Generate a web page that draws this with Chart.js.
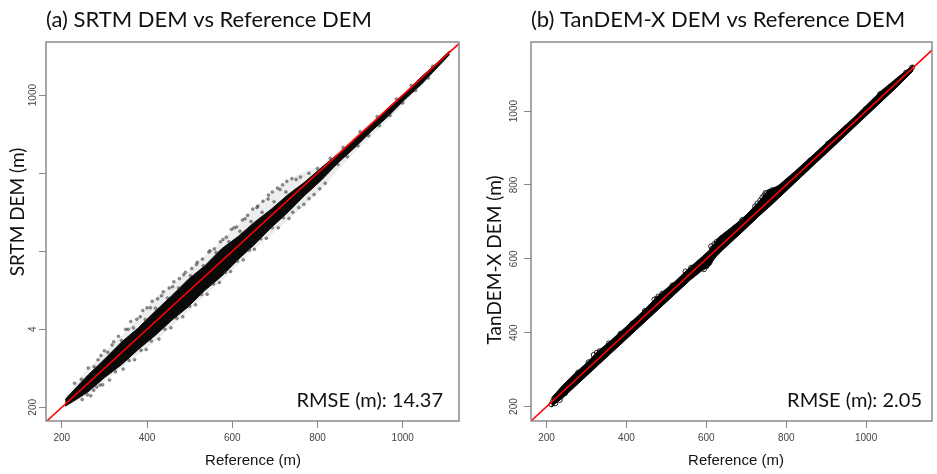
<!DOCTYPE html>
<html><head><meta charset="utf-8">
<script src="https://cdn.jsdelivr.net/npm/chart.js@4.4.1/dist/chart.umd.min.js"></script>
<style>
html,body{margin:0;padding:0;background:#fff;width:937px;height:474px;overflow:hidden}
canvas{position:absolute;top:0}
#ca{left:0}
#cb{left:468px}
</style></head><body>
<canvas id="ca" width="468" height="474"></canvas>
<canvas id="cb" width="469" height="474"></canvas>
<script>
// ---------- shared axis data ----------
const xTicks = [200, 400, 600, 800, 1000];
const yTicks = [200, 400, 600, 800, 1000];
const yLabelsA = ['200', '4', '', '', '1000'];
const yLabelsB = ['200', '400', '600', '800', '1000'];
const oneToOne = [150, 1200];

// ---------- panel (a): SRTM vs reference ----------
const refA    = [208, 235, 262, 300, 341, 380, 419, 458, 497, 536, 575, 614, 653, 692, 731, 770, 809, 848, 888, 927, 966, 1005, 1044, 1077, 1110];
const coreLoA = [203, 221, 240, 276, 310, 349, 384, 423, 458, 500, 536, 579, 618, 661, 700, 743, 782, 826, 866, 908, 946, 989, 1028, 1066, 1104];
const coreHiA = [220, 252, 283, 323, 368, 404, 446, 486, 528, 563, 606, 638, 675, 708, 745, 777, 814, 849, 889, 926, 967, 1005, 1047, 1079, 1113];
const edgeLoA = [200, 213, 232, 266, 303, 335, 368, 408, 446, 487, 524, 566, 606, 643, 680, 718, 758, 808, 854, 895, 936, 980, 1023, 1062, 1100];
const edgeHiA = [228, 265, 300, 340, 384, 432, 479, 513, 548, 589, 626, 670, 713, 748, 782, 805, 819, 857, 896, 933, 970, 1009, 1048, 1082, 1115];
const scatRefA  = [285, 300, 318, 333, 350, 362, 376, 390, 400, 412, 425, 438, 452, 463, 476, 490, 505, 518, 530, 545, 558, 572, 586, 598, 610, 624, 636, 648, 660, 672, 685, 694, 706, 718, 728, 740, 750, 260, 275, 290, 742, 756, 768, 780, 792, 805, 818,
  248, 268, 282, 296, 312, 326, 344, 358, 371, 386, 398, 410, 428, 442, 456, 470, 484, 500, 514, 528, 541, 556, 570, 584, 596, 612, 626, 640, 652, 667, 680, 694, 708, 720, 733, 848, 870, 895, 920, 945, 970, 1000, 1030, 1060,
  230, 246, 262, 276, 292, 308, 322, 340, 356, 368, 384, 396, 408, 420, 434, 448, 460, 474, 486, 502, 516, 532, 548, 562, 578, 592, 604, 618, 630, 644, 658, 670, 684, 698, 712, 726, 760, 780, 800, 830, 860, 900, 940, 985, 1020, 1070];
const scatSrtmA = [322, 345, 360, 382, 400, 420, 426, 448, 455, 472, 478, 496, 506, 522, 530, 546, 556, 572, 580, 598, 606, 624, 636, 656, 662, 680, 692, 708, 716, 728, 744, 752, 762, 770, 779, 786, 784, 232, 244, 257, 700, 712, 720, 735, 745, 760, 774,
  220, 230, 252, 258, 270, 291, 298, 320, 322, 346, 348, 370, 375, 400, 404, 428, 432, 459, 463, 489, 490, 516, 520, 546, 548, 575, 578, 603, 605, 632, 633, 660, 660, 686, 684, 822, 842, 870, 896, 922, 948, 980, 1012, 1044,
  262, 272, 301, 304, 333, 341, 368, 371, 400, 404, 432, 425, 455, 454, 486, 480, 509, 506, 540, 537, 566, 563, 601, 597, 630, 624, 660, 651, 683, 676, 712, 700, 734, 727, 758, 752, 790, 800, 812, 838, 866, 906, 945, 990, 1025, 1074];

// ---------- panel (b): TanDEM-X vs reference ----------
const refB    = [212, 240, 270, 300, 330, 360, 400, 440, 480, 520, 560, 590, 606, 625, 640, 670, 700, 730, 755, 780, 820, 870, 920, 970, 1035, 1080, 1118];
const coreLoB = [200, 223, 253, 283, 313, 343, 383, 423, 463, 503, 543, 569, 579, 607, 623, 653, 683, 714, 738, 763, 804, 855, 905, 956, 1022, 1068, 1109];
const coreHiB = [223, 257, 289, 318, 351, 378, 417, 457, 501, 537, 578, 606, 622, 649, 666, 691, 719, 753, 785, 798, 835, 884, 934, 983, 1052, 1092, 1125];
const scatRefB = [212, 216, 222, 228, 233, 238, 246, 258, 266, 279, 290, 305, 318, 333, 342, 356, 370, 385, 398, 415, 430, 446, 460, 476, 484, 500, 515, 535, 548, 562, 578, 590, 598, 604, 612, 620, 632, 640, 655, 672, 690, 705, 722, 735, 745, 752, 760, 770, 790, 820, 860, 905, 950, 1000, 1035, 1060, 1100, 1115,
  594, 600, 608, 615, 626, 636, 728, 740, 748, 758, 765, 470, 480, 490, 318, 326];
const scatTdxB = [206, 214, 209, 224, 218, 238, 236, 256, 272, 292, 296, 320, 322, 350, 346, 371, 372, 397, 398, 425, 428, 459, 458, 492, 494, 510, 528, 540, 566, 576, 572, 576, 582, 586, 634, 640, 650, 658, 666, 685, 705, 712, 742, 758, 772, 778, 776, 782, 796, 826, 866, 912, 954, 1006, 1046, 1064, 1104, 1118,
  572, 580, 590, 628, 646, 654, 750, 766, 778, 782, 786, 490, 498, 506, 340, 346];

const pts = (xs, ys) => xs.map((x, i) => ({x: x, y: ys[i]}));

const SANS = '"Liberation Sans", Arial, sans-serif';
const CAL = 'Lato, "Open Sans", sans-serif';

function decor(cfg) {
  return {
    id: 'decor',
    afterDraw(chart) {
      const ctx = chart.ctx, a = chart.chartArea;
      ctx.save();
      ctx.strokeStyle = '#8a8a8a'; ctx.lineWidth = 1.5;
      ctx.strokeRect(a.left, a.top, a.right - a.left, a.bottom - a.top);
      ctx.fillStyle = '#111';
      ctx.textBaseline = 'alphabetic';
      ctx.font = '22px ' + CAL; ctx.textAlign = 'left';
      ctx.fillText(cfg.title, a.left, 27);
      ctx.font = '15px ' + SANS; ctx.textAlign = 'center';
      ctx.fillText('Reference (m)', cfg.xTitleX, 465);
      ctx.save();
      ctx.translate(cfg.yTitleX, cfg.yTitleY); ctx.rotate(-Math.PI / 2);
      ctx.font = '19px ' + CAL; ctx.textAlign = 'center'; ctx.textBaseline = 'middle';
      ctx.fillText(cfg.yTitle, 0, 0);
      ctx.restore();
      const ys = chart.scales.y;
      ctx.font = '10px ' + SANS; ctx.fillStyle = '#444';
      yTicks.forEach((v, i) => {
        const lab = cfg.yLabels[i]; if (!lab) return;
        ctx.save();
        ctx.translate(cfg.yLabX, ys.getPixelForValue(v)); ctx.rotate(-Math.PI / 2);
        ctx.textAlign = 'center'; ctx.textBaseline = 'middle';
        ctx.fillText(lab, 0, 0);
        ctx.restore();
      });
      ctx.fillStyle = '#111'; ctx.font = '20px ' + CAL; ctx.textAlign = 'right'; ctx.textBaseline = 'alphabetic';
      ctx.fillText(cfg.rmse, cfg.rmseX, 407);
      ctx.restore();
    }
  };
}

function makeChart(id, p) {
  const datasets = [
    {data: pts(oneToOne, oneToOne), borderColor: '#ff0000', borderWidth: 1.6, pointRadius: 0, fill: false},
    {data: pts(p.sx, p.sy), showLine: false, pointRadius: p.pr, pointBackgroundColor: p.pbg, pointBorderColor: p.pbc, pointBorderWidth: p.pbw},
    {data: pts(p.ref, p.hi), borderColor: p.coreCol, borderWidth: 1, pointRadius: 0, fill: {target: 3}, backgroundColor: p.coreCol},
    {data: pts(p.ref, p.lo), borderColor: p.coreCol, borderWidth: 1, pointRadius: 0, fill: false}
  ];
  if (p.ehi) {
    datasets.push({data: pts(p.ref, p.ehi), borderColor: 'rgba(0,0,0,0)', borderWidth: 0, pointRadius: 0, fill: {target: 5}, backgroundColor: 'rgba(80,80,80,0.10)'});
    datasets.push({data: pts(p.ref, p.elo), borderColor: 'rgba(0,0,0,0)', borderWidth: 0, pointRadius: 0, fill: false});
  }
  const gridOpt = {drawOnChartArea: false, drawTicks: true, tickLength: 7, color: '#888', lineWidth: 1};
  return new Chart(document.getElementById(id), {
    type: 'line',
    data: {datasets: datasets},
    options: {
      responsive: false, animation: false, devicePixelRatio: 1,
      layout: {padding: {top: 42, right: p.padR, left: 0, bottom: 0}},
      elements: {line: {tension: 0}},
      plugins: {legend: {display: false}, tooltip: {enabled: false}},
      scales: {
        x: {type: 'linear', min: p.xmin, max: p.xmax,
            afterBuildTicks: s => { s.ticks = xTicks.map(v => ({value: v})); },
            ticks: {font: {family: SANS, size: 10}, color: '#444', padding: 4, maxRotation: 0, autoSkip: false,
                    callback: v => String(v)},
            grid: gridOpt, border: {display: false},
            afterFit: s => { s.height = 53; }},
        y: {type: 'linear', min: p.ymin, max: p.ymax,
            afterBuildTicks: s => { s.ticks = yTicks.map(v => ({value: v})); },
            ticks: {display: false},
            grid: gridOpt, border: {display: false},
            afterFit: s => { s.width = p.yw; }}
      }
    },
    plugins: [decor(p.cfg)]
  });
}

function build() {
  makeChart('ca', {
    ref: refA, lo: coreLoA, hi: coreHiA, elo: edgeLoA, ehi: edgeHiA, sx: scatRefA, sy: scatSrtmA,
    coreCol: '#0a0a0a', pr: 1.5, pbg: 'rgba(60,60,60,0.55)', pbc: 'rgba(30,30,30,0.55)', pbw: 0.5,
    xmin: 163, xmax: 1132, ymin: 165, ymax: 1136, padR: 9, yw: 46,
    cfg: {title: '(a) SRTM DEM vs Reference DEM', yTitle: 'SRTM DEM (m)', yLabels: yLabelsA,
          xTitleX: 253, yTitleX: 18, yTitleY: 212, yLabX: 33, rmse: 'RMSE (m): 14.37', rmseX: 443}
  });
  makeChart('cb', {
    ref: refB, lo: coreLoB, hi: coreHiB, sx: scatRefB, sy: scatTdxB,
    coreCol: '#000', pr: 2.5, pbg: 'rgba(0,0,0,0)', pbc: 'rgba(0,0,0,0.85)', pbw: 1,
    xmin: 161, xmax: 1165, ymin: 161, ymax: 1187, padR: 2, yw: 63,
    cfg: {title: '(b) TanDEM-X DEM vs Reference DEM', yTitle: 'TanDEM-X DEM (m)', yLabels: yLabelsB,
          xTitleX: 268, yTitleX: 27, yTitleY: 260, yLabX: 46, rmse: 'RMSE (m): 2.05', rmseX: 454}
  });
}
const fontLoads = ['22px Lato', '19px Lato', '15px "Liberation Sans"', '10px "Liberation Sans"'].map(f => document.fonts.load(f));
Promise.all(fontLoads).then(build, build);
</script>
</body></html>
